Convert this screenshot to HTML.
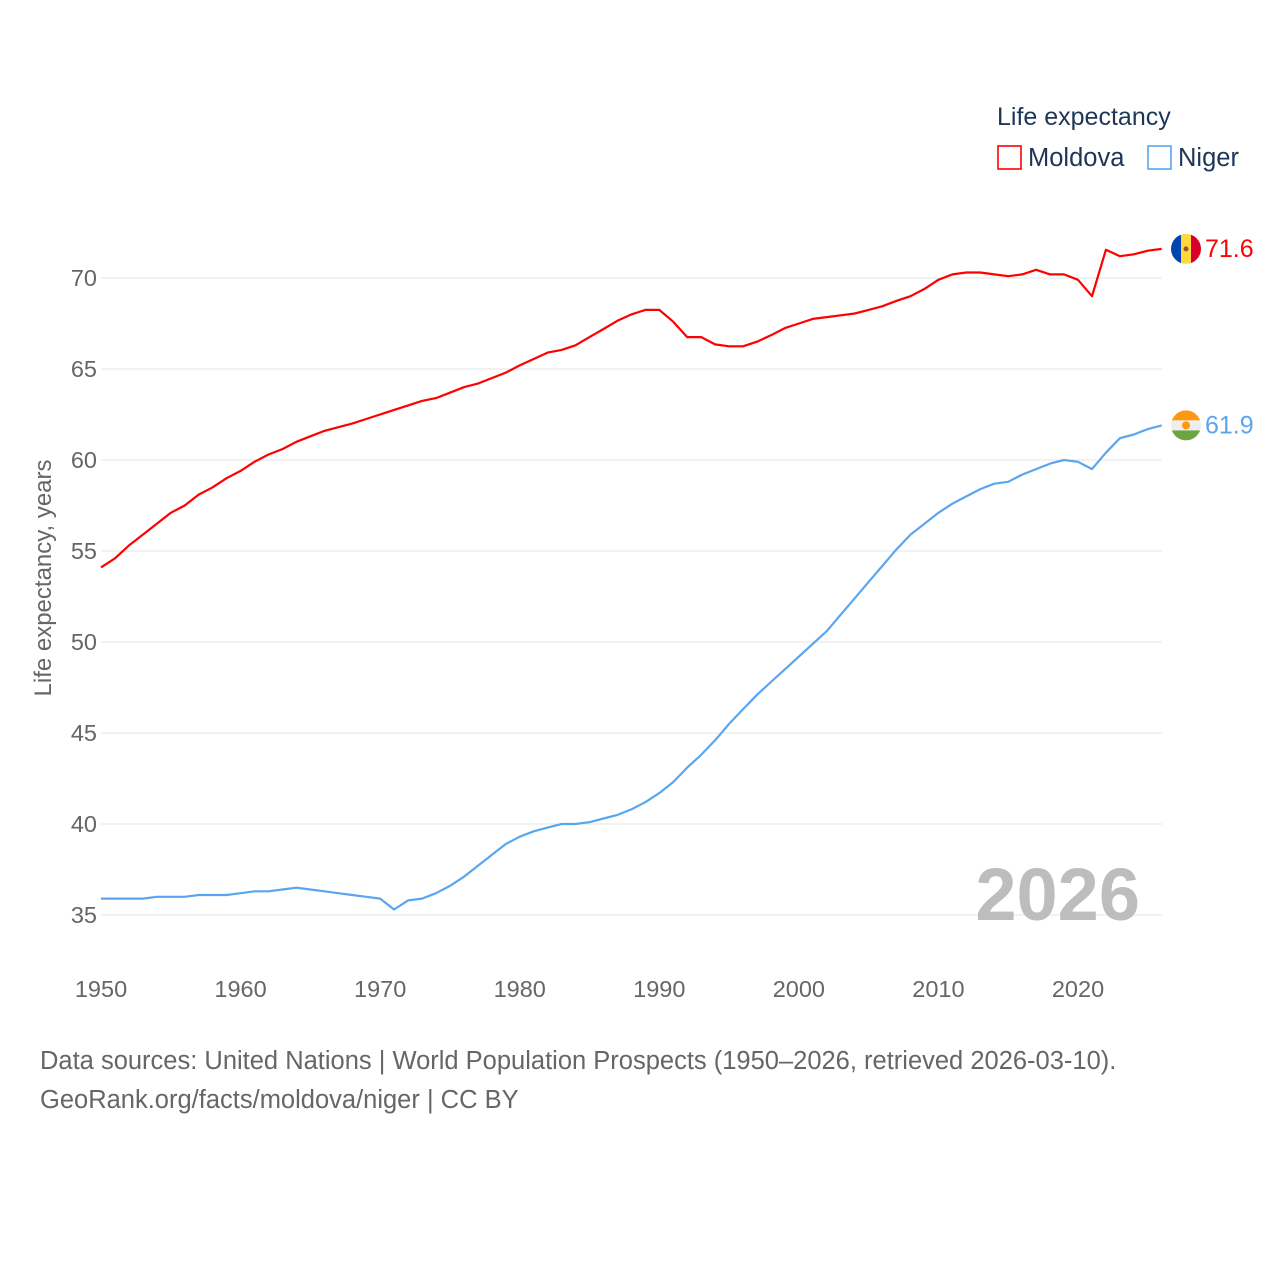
<!DOCTYPE html>
<html><head><meta charset="utf-8"><style>
html,body{margin:0;padding:0;background:#fff;width:1280px;height:1280px;overflow:hidden;font-family:"Liberation Sans",sans-serif}
</style></head><body>
<svg id="chart" width="1280" height="1280" xmlns="http://www.w3.org/2000/svg" font-family="Liberation Sans, sans-serif">
<g id="grid"></g>
<g id="yticks"></g>
<g id="xticks"></g>
<text transform="translate(51,578) rotate(-90)" text-anchor="middle" font-size="24" fill="#666">Life expectancy, years</text>
<text x="1140" y="920" text-anchor="end" font-size="74" font-weight="bold" fill="#bdbdbd">2026</text>
<g id="series"></g>
<g>
<text x="997" y="125" font-size="25" fill="#1d3557">Life expectancy</text>
<g><rect x="998" y="146" width="23" height="23" fill="none" stroke="#ff0000" stroke-width="1.6"/><text x="1028" y="166" font-size="25.5" fill="#1d3557">Moldova</text></g>
<g><rect x="1148" y="146" width="23" height="23" fill="none" stroke="#5aa6ee" stroke-width="1.6"/><text x="1178" y="166" font-size="25.5" fill="#1d3557">Niger</text></g>
</g>
<g id="flags"></g>
<text x="40" y="1069" font-size="25.5" fill="#666">Data sources: United Nations | World Population Prospects (1950–2026, retrieved 2026-03-10).</text>
<text x="40" y="1108" font-size="25.5" fill="#666">GeoRank.org/facts/moldova/niger | CC BY</text>
</svg>
<script>
const years = [];
for (let y = 1950; y <= 2026; y++) years.push(y);
const moldova = [54.1,54.6,55.3,55.9,56.5,57.1,57.5,58.1,58.5,59.0,59.4,59.9,60.3,60.6,61.0,61.3,61.6,61.8,62.0,62.25,62.5,62.75,63.0,63.25,63.4,63.7,64.0,64.2,64.5,64.8,65.2,65.55,65.9,66.05,66.3,66.75,67.2,67.65,68.0,68.25,68.25,67.6,66.75,66.75,66.35,66.25,66.25,66.5,66.85,67.25,67.5,67.75,67.85,67.95,68.05,68.25,68.45,68.75,69.0,69.4,69.9,70.2,70.3,70.3,70.2,70.1,70.2,70.45,70.2,70.2,69.9,69.0,71.55,71.2,71.3,71.5,71.6];
const niger = [35.9,35.9,35.9,35.9,36.0,36.0,36.0,36.1,36.1,36.1,36.2,36.3,36.3,36.4,36.5,36.4,36.3,36.2,36.1,36.0,35.9,35.3,35.8,35.9,36.2,36.6,37.1,37.7,38.3,38.9,39.3,39.6,39.8,40.0,40.0,40.1,40.3,40.5,40.8,41.2,41.7,42.3,43.1,43.8,44.6,45.5,46.3,47.1,47.8,48.5,49.2,49.9,50.6,51.5,52.4,53.3,54.2,55.1,55.9,56.5,57.1,57.6,58.0,58.4,58.7,58.8,59.2,59.5,59.8,60.0,59.9,59.5,60.4,61.2,61.4,61.7,61.9];
const yTicks = [35,40,45,50,55,60,65,70];
const xTicks = [1950,1960,1970,1980,1990,2000,2010,2020];
const endLabels = ["71.6","61.9"];

const NS = "http://www.w3.org/2000/svg";
const xs = y => 101 + (y - 1950) * (977 / 70);
const ys = v => 278 + (70 - v) * (637 / 35);
function mk(tag, attrs, parent) { const e = document.createElementNS(NS, tag); for (const k in attrs) e.setAttribute(k, attrs[k]); parent.appendChild(e); return e; }

const grid = document.getElementById('grid'), yt = document.getElementById('yticks'), xt = document.getElementById('xticks');
yTicks.forEach(v => {
  const l = mk('line', {x1: 101, x2: 1162, y1: ys(v), y2: ys(v), stroke: '#e6e6e6', 'stroke-width': 1}, grid);
  
  
  const t = mk('text', {x: 97, y: ys(v) + 8, 'text-anchor': 'end', 'font-size': 23.5, fill: '#666'}, yt);
  t.textContent = v;
  
  
});
xTicks.forEach(v => {
  const t = mk('text', {x: xs(v), y: 997, 'text-anchor': 'middle', 'font-size': 23.5, fill: '#666'}, xt);
  t.textContent = v;
  
  
});
const sg = document.getElementById('series');
[[moldova, '#ff0000', 'moldova'], [niger, '#5aa6ee', 'niger']].forEach(([d, c, n]) => {
  const p = mk('path', {d: d.map((v, i) => (i ? 'L' : 'M') + xs(years[i]).toFixed(1) + ',' + ys(v).toFixed(1)).join(''), fill: 'none', stroke: c, 'stroke-width': 2.2, 'stroke-linejoin': 'round'}, sg);
  
  
});
const fg = document.getElementById('flags');
const lastM = moldova[moldova.length - 1], lastN = niger[niger.length - 1];
const fm = mk('g', {}, fg);


const cy1 = ys(lastM), cx = 1186, r = 15;
const cp1 = mk('clipPath', {id: 'c1'}, fm); mk('circle', {cx: cx, cy: cy1, r: r}, cp1);
mk('rect', {x: cx - r, y: cy1 - r, width: 10, height: 30, fill: '#0046ae', 'clip-path': 'url(#c1)'}, fm);
mk('rect', {x: cx - 5, y: cy1 - r, width: 10, height: 30, fill: '#ffd83d', 'clip-path': 'url(#c1)'}, fm);
mk('rect', {x: cx + 5, y: cy1 - r, width: 10, height: 30, fill: '#d80027', 'clip-path': 'url(#c1)'}, fm);
mk('circle', {cx: cx, cy: cy1, r: 2.5, fill: '#a0522d'}, fm);
const tm = mk('text', {x: 1205, y: cy1 + 8, 'font-size': 25, fill: '#ff0000'}, fg);
tm.textContent = endLabels[0];


const fn = mk('g', {}, fg);


const cy2 = ys(lastN);
const cp2 = mk('clipPath', {id: 'c2'}, fn); mk('circle', {cx: cx, cy: cy2, r: r}, cp2);
mk('rect', {x: cx - r, y: cy2 - r, width: 30, height: 10, fill: '#ff9811', 'clip-path': 'url(#c2)'}, fn);
mk('rect', {x: cx - r, y: cy2 - 5, width: 30, height: 10, fill: '#eeeeee', 'clip-path': 'url(#c2)'}, fn);
mk('rect', {x: cx - r, y: cy2 + 5, width: 30, height: 10, fill: '#6da544', 'clip-path': 'url(#c2)'}, fn);
mk('circle', {cx: cx, cy: cy2, r: 4, fill: '#ff9811'}, fn);
const tn = mk('text', {x: 1205, y: cy2 + 8, 'font-size': 25, fill: '#5aa6ee'}, fg);
tn.textContent = endLabels[1];


</script>
</body></html>
